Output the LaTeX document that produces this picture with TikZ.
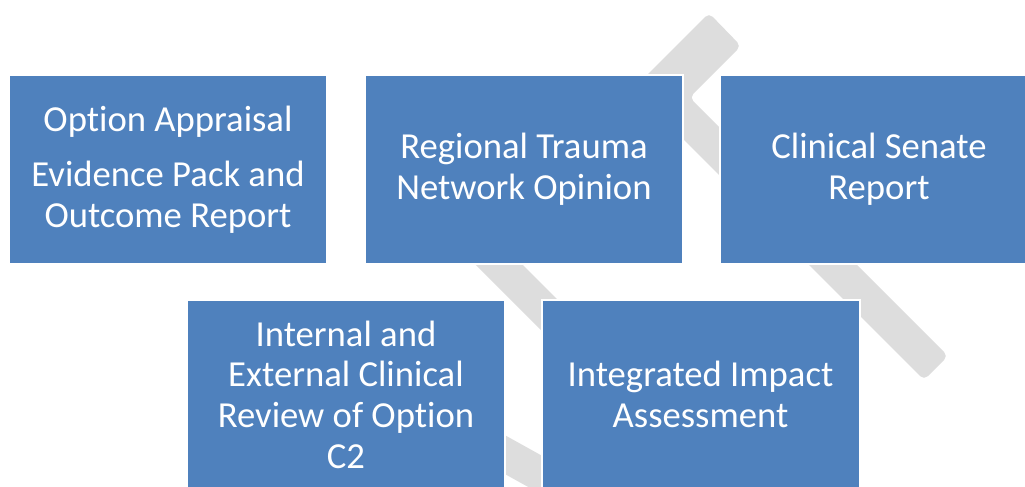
\documentclass[tikz,border=0pt]{standalone}
\usepackage{fontspec}
\setmainfont{Carlito}[Ligatures=NoCommon]
\definecolor{boxblue}{RGB}{79,129,189}
\definecolor{bandgray}{RGB}{221,221,221}
\begin{document}
\begin{tikzpicture}[x=0.75pt,y=-0.75pt,
  procbox/.style={fill=boxblue,draw=white,line width=1.5pt,
    minimum width=238.5pt,minimum height=141.75pt,inner sep=0pt,
    text=white,align=center,font=\fontsize{27.5pt}{30.5pt}\selectfont},
  band/.style={fill=bandgray}]
\useasboundingbox (0,0) rectangle (1025,486);
\clip (0,0) rectangle (1025,486);
\fill[white] (0,0) rectangle (1025,486);
% gray bands behind the boxes
\fill[band,rounded corners=4pt] (633,89) -- (709,13) -- (741,46) -- (689.5,97.5) -- (948,356) -- (924,380) -- cycle;
\fill[band] (411,200) -- (434.5,176.5) -- (654.5,396.5) -- (631,420) -- cycle;
\fill[band] (470,415.8) -- (600,488) -- (583.5,517.7) -- (453.5,445.5) -- cycle;
% boxes
\node[procbox] (b1) at (168,169.5) {Option Appraisal\\[11pt]Evidence Pack and\\Outcome Report};
\node[procbox] (b2) at (524,169.5) {Regional Trauma\\Network Opinion};
\node[procbox] (b3) at (879,169.5) {Clinical Senate\\Report};
\node[procbox] (b4) at (346,394.5) {Internal and\\External Clinical\\Review of Option\\C2};
\node[procbox] (b5) at (700.5,394.5) {Integrated Impact\\Assessment};
\end{tikzpicture}
\end{document}
